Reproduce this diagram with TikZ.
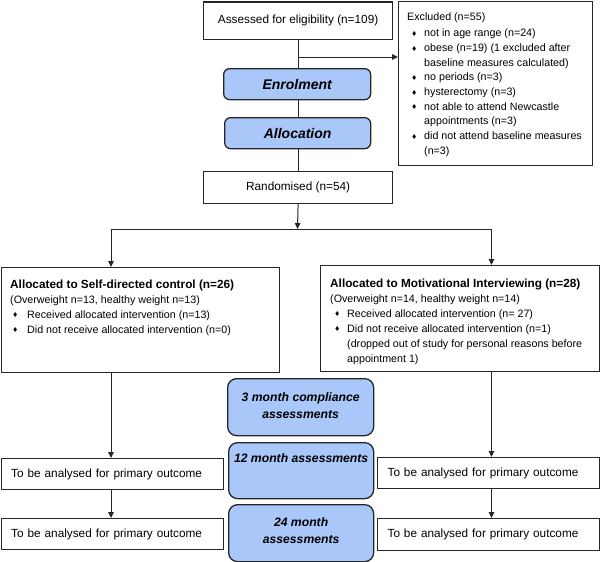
\documentclass[tikz,border=0pt]{standalone}
\usepackage{fontspec}
\setmainfont{Liberation Sans}
\usetikzlibrary{arrows.meta,calc}
\definecolor{bluefill}{RGB}{170,199,250}
\newcommand\dmd{\raisebox{0.3pt}{\fontsize{8.5}{8.5}\selectfont\char"2666}}
\newcommand\bul[1]{\par\noindent\hangindent=17pt\hangafter=1 \makebox[17pt][l]{\hspace*{#1}\dmd}\ignorespaces}
\newcommand\blk[1]{\vtop{\hsize=300pt\parindent=0pt\parskip=0pt #1}}
\begin{document}
\begin{tikzpicture}[x=1pt,y=-1pt,
  box/.style={draw=black!85, line width=1.2pt, inner sep=0pt, anchor=north west, font=\fontsize{11.8}{14}\selectfont},
  tba/.style={box, inner xsep=10pt, inner ysep=0pt, align=left},
  bbox/.style={draw=black!85, line width=1.3pt, fill=bluefill, inner sep=0pt, anchor=north west, align=center},
  btxt/.style={font=\fontsize{12.2}{17.5}\selectfont\bfseries\itshape},
  arr/.style={-{Triangle[length=6pt,width=5.5pt]}, line width=1pt, draw=black!85},
  ln/.style={line width=1pt, draw=black!85},
  body/.style={anchor=base west, inner sep=0pt, font=\fontsize{10.7}{15}\selectfont}]
\useasboundingbox (0,0) rectangle (600,562);

% top part
\node[box, minimum width=189, minimum height=37] (A) at (203,1.5) {Assessed for eligibility (n=109)};
\node[box, minimum width=193.5, minimum height=164.5] (X) at (398,0.6) {};
\node[body, font=\fontsize{10.7}{14.7}\selectfont] (Xt) at (407,20) {\blk{Excluded (n=55)\par\vskip2pt
  \bul{5pt}not in age range (n=24)
  \bul{5pt}obese (n=19) (1 excluded after\\baseline measures calculated)
  \bul{5pt}no periods (n=3)
  \bul{5pt}hysterectomy (n=3)
  \bul{5pt}not able to attend Newcastle\\appointments (n=3)
  \bul{5pt}did not attend baseline measures\\(n=3)}};
\node[bbox, rounded corners=6pt, minimum width=147, minimum height=31, font=\fontsize{14}{16}\selectfont\bfseries\itshape] (E) at (223,68) {Enrolment};
\node[bbox, rounded corners=6pt, minimum width=146, minimum height=31, font=\fontsize{14}{16}\selectfont\bfseries\itshape] (Al) at (224,117) {Allocation};
\node[box, minimum width=189, minimum height=32] (R) at (203,171) {Randomised (n=54)};

\draw[ln] (A.south) -- (A.south |- E.north);
\draw[ln] (A.south |- E.south) -- (A.south |- Al.north);
\draw[ln] (A.south |- Al.south) -- (R.north);
\coordinate (J1) at (297.5,57);
\draw[arr] (J1) -- (J1 -| X.west);

% allocation boxes
\node[box, minimum width=278.4, minimum height=105] (L) at (0.6,267) {};
\node[body] (Lt) at (10,288) {\blk{{\fontsize{11.8}{15}\selectfont\bfseries Allocated to Self-directed control (n=26)\par}\fontsize{10.7}{15}\selectfont
  (Overweight n=13, healthy weight n=13)
  \bul{3pt}Received allocated intervention (n=13)
  \bul{3pt}Did not receive allocated intervention (n=0)}};
\node[box, minimum width=279, minimum height=106] (M) at (320,265) {};
\node[body] (Mt) at (330,287) {\blk{{\fontsize{11.8}{15}\selectfont\bfseries Allocated to Motivational Interviewing (n=28)\par}\fontsize{10.7}{15}\selectfont
  (Overweight n=14, healthy weight n=14)
  \bul{5pt}Received allocated intervention (n= 27)
  \bul{5pt}Did not receive allocated intervention (n=1)\\(dropped out of study for personal reasons before\\appointment 1)}};

\coordinate (J2) at (297.5,229);
\coordinate (lx) at (111,229);
\coordinate (rx) at (491.5,229);
\draw[arr] (R.south) -- (J2);
\draw[ln] (lx) -- (rx);
\draw[arr] (lx) -- (lx |- L.north);
\draw[arr] (rx) -- (rx |- M.north);

% assessments
\node[bbox, rounded corners=9pt, minimum width=146, minimum height=57] (m3) at (227,378) {};
\node[btxt, align=center, inner sep=0pt] (m3t) at ($(m3.center)+(0,-1.5)$) {3 month compliance\\assessments};
\node[bbox, rounded corners=9pt, minimum width=145, minimum height=56] (m12) at (228,442) {};
\node[btxt, inner sep=0pt] (m12t) at ($(m12.north)+(0,16)$) {12 month assessments};
\node[bbox, rounded corners=9pt, minimum width=145, minimum height=57] (m24) at (228,504) {};
\node[btxt, align=center, inner sep=0pt] (m24t) at ($(m24.center)+(0,-2.5)$) {24 month\\assessments};

% outcome boxes
\node[tba, text width=202.4, minimum height=31] (T1) at (0.6,458) {To be analysed for primary outcome};
\node[tba, text width=202.4, minimum height=31] (T2) at (0.6,518) {To be analysed for primary outcome};
\node[tba, text width=202, minimum height=31] (U1) at (377,457) {To be analysed for primary outcome};
\node[tba, text width=202, minimum height=32] (U2) at (377,518) {To be analysed for primary outcome};

\draw[arr] (lx |- L.south) -- (lx |- T1.north);
\draw[arr] (lx |- T1.south) -- (lx |- T2.north);
\draw[arr] (rx |- M.south) -- (rx |- U1.north);
\draw[arr] (rx |- U1.south) -- (rx |- U2.north);
\end{tikzpicture}
\end{document}
